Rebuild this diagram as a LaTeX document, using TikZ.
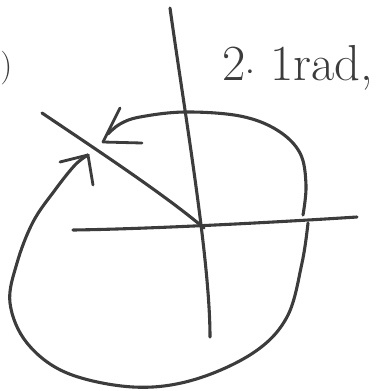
\documentclass[tikz,border=0pt]{standalone}
\usetikzlibrary{positioning}

\definecolor{pgra}{RGB}{60, 60, 60}

\tikzset{
	pencil/.style={pgra, line width=2.2pt, line cap=round, line join=round},
	wing/.style={pencil, line width=2pt},
	hand/.style={pgra, font=\fontsize{36}{36}\selectfont, inner sep=0pt}
}

\begin{document}
\begin{tikzpicture}[x=0.025cm, y=-0.025cm]
	\useasboundingbox (0,0) rectangle (390,391);

	% --- axes ---
	\coordinate (O) at (204,228);
	\coordinate (xl) at (73,230);
	\coordinate (xr) at (357,217);
	\coordinate (yt) at (170,8);
	\coordinate (yb) at (210,337);
	\draw[pencil] (xl) .. controls (150,229) and (280,222) .. (xr);
	\draw[pencil] (yt) .. controls (185,115) and (210,260) .. (yb);

	% --- ray ---
	\coordinate (rend) at (42,113);
	\draw[pencil] (rend) .. controls (100,152) and (165,195) .. (O);

	% --- upper arc, arrow at the ray ---
	\coordinate (tipA) at (103,142);
	\draw[pencil] plot[smooth, tension=0.6] coordinates
		{(303,215) (306,185) (300,153) (277,130) (240,116) (185,112) (140,117) (120,124) (108,134)};
	\draw[wing] (tipA) -- (120,108);
	\draw[wing] (tipA) -- (142,143);

	% --- lower arc, arrow at the ray ---
	\coordinate (tipB) at (88,155);
	\draw[pencil] plot[smooth, tension=0.6] coordinates
		{(308,223) (302,263) (287,317) (253,353) (193,380) (133,387) (67,373) (27,343) (10,303) (17,263) (33,222) (55,190) (75,165) (tipB)};
	\draw[wing] (tipB) -- (60,162);
	\draw[wing] (tipB) -- (93,185);

	% --- labels ---
	\node[hand, anchor=west] (lbl) at (222,68) {2$\cdot$\ 1rad,};
	\node[hand, anchor=west, font=\fontsize{24}{24}\selectfont] (par) at (0,68) {)};

\end{tikzpicture}
\end{document}
